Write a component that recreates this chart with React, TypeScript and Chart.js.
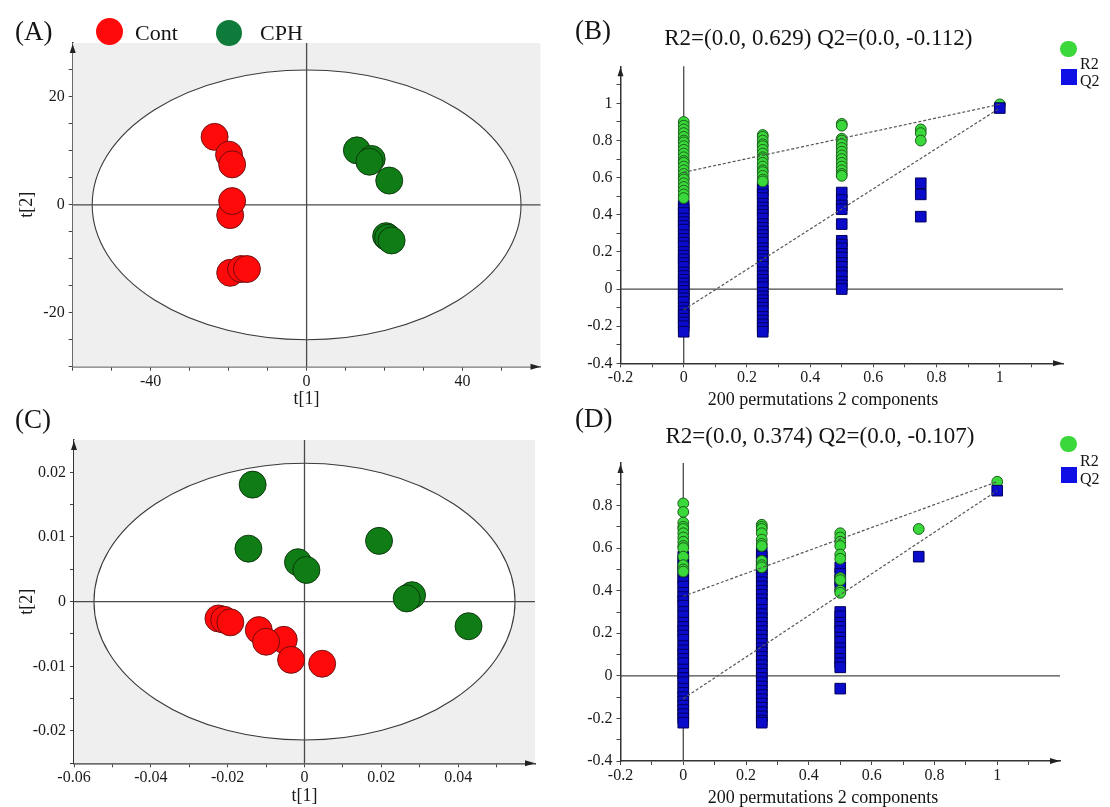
import React, { useEffect, useRef } from 'react';
import { Chart, registerables } from 'chart.js';

Chart.register(...registerables);

const SERIF = "'Liberation Serif', 'Times New Roman', serif";

// ---------- Panel A (PCA score plot) ----------
const aContT1 = [-23.6, -19.9, -19.1, -19.6, -19.1, -19.6, -16.8, -15.3];
const aContT2 = [12.6, 9.3, 7.5, -1.9, 0.7, -12.6, -11.9, -11.9];
const aCphT1 = [12.9, 16.7, 16.1, 21.2, 20.4, 20.9, 21.8];
const aCphT2 = [10.1, 8.5, 8.0, 4.5, -5.8, -6.1, -6.6];
const aEllipse = [55, 25];
const aXTicks = [-60, -50, -40, -30, -20, -10, 0, 10, 20, 30, 40, 50];
const aXLabels = [-40, 0, 40];
const aYTicks = [-30, -25, -20, -15, -10, -5, 0, 5, 10, 15, 20, 25];
const aYLabels = [-20, 0, 20];

// ---------- Panel C (score plot) ----------
const cContT1 = [-0.0224, -0.0209, -0.0193, -0.0119, -0.0054, -0.01, -0.0035, 0.0046];
const cContT2 = [-0.0026, -0.0028, -0.0032, -0.0044, -0.0059, -0.0062, -0.009, -0.0096];
const cCphT1 = [-0.0135, -0.0146, -0.0017, 0.0005, 0.0194, 0.028, 0.0266, 0.0427];
const cCphT2 = [0.0181, 0.0082, 0.0061, 0.0049, 0.0094, 0.001, 0.0005, -0.0038];
const cEllipse = [0.0548, 0.0214];
const cXTicks = [-0.06, -0.05, -0.04, -0.03, -0.02, -0.01, 0, 0.01, 0.02, 0.03, 0.04, 0.05];
const cXLabels = [-0.06, -0.04, -0.02, 0, 0.02, 0.04];
const cYTicks = [-0.025, -0.02, -0.015, -0.01, -0.005, 0, 0.005, 0.01, 0.015, 0.02];
const cYLabels = [-0.02, -0.01, 0, 0.01, 0.02];

// ---------- Permutation panels (B, D) ----------
const permLevels = [0, 0.25, 0.5, 0.75];
const permXTicks = [-0.2, -0.1, 0, 0.1, 0.2, 0.3, 0.4, 0.5, 0.6, 0.7, 0.8, 0.9, 1, 1.1];
const permXLabels = [-0.2, 0, 0.2, 0.4, 0.6, 0.8, 1];

const bR2Perm = [
  [0.9, 0.88, 0.86, 0.84, 0.82, 0.8, 0.79, 0.77, 0.75, 0.73, 0.71, 0.69, 0.68, 0.66, 0.64, 0.62, 0.6, 0.59, 0.57, 0.55, 0.53, 0.51, 0.49],
  [0.83, 0.82, 0.8, 0.78, 0.77, 0.75, 0.73, 0.71, 0.7, 0.68, 0.66, 0.64, 0.63, 0.61, 0.59, 0.58],
  [0.89, 0.88, 0.81, 0.8, 0.78, 0.76, 0.74, 0.72, 0.7, 0.68, 0.66, 0.64, 0.62, 0.61],
  [0.86, 0.84, 0.8],
];
const bQ2Perm = [
  [0.45, 0.43, 0.41, 0.38, 0.36, 0.34, 0.32, 0.29, 0.27, 0.25, 0.23, 0.2, 0.18, 0.16, 0.14, 0.12, 0.09, 0.07, 0.05, 0.03, 0.01, -0.01, -0.03, -0.05, -0.07, -0.1, -0.12, -0.14, -0.16, -0.18, -0.2, -0.23],
  [0.55, 0.53, 0.51, 0.49, 0.46, 0.44, 0.42, 0.4, 0.38, 0.35, 0.33, 0.31, 0.29, 0.27, 0.25, 0.22, 0.2, 0.18, 0.16, 0.14, 0.12, 0.09, 0.07, 0.05, 0.03, 0.01, -0.02, -0.04, -0.06, -0.08, -0.1, -0.12, -0.15, -0.17, -0.19, -0.21, -0.23],
  [0.52, 0.48, 0.45, 0.43, 0.35, 0.26, 0.24, 0.22, 0.19, 0.17, 0.14, 0.12, 0.09, 0.07, 0.04, 0.02, 0.0],
  [0.57, 0.51, 0.39],
];
const bR2Orig = 0.995;
const bQ2Orig = 0.975;
const bR2Intercept = 0.629;
const bQ2Intercept = -0.112;
const bYTicks = [-0.4, -0.3, -0.2, -0.1, 0, 0.1, 0.2, 0.3, 0.4, 0.5, 0.6, 0.7, 0.8, 0.9, 1, 1.1];
const bYLabels = [-0.4, -0.2, 0, 0.2, 0.4, 0.6, 0.8, 1];

const dR2Perm = [
  [0.81, 0.77, 0.72, 0.7, 0.69, 0.67, 0.65, 0.63, 0.61, 0.6, 0.56, 0.52, 0.5, 0.49],
  [0.71, 0.7, 0.69, 0.67, 0.64, 0.62, 0.61, 0.54, 0.52, 0.51],
  [0.67, 0.65, 0.63, 0.61, 0.57, 0.55, 0.46, 0.45, 0.4, 0.39],
  [0.69],
];
const dQ2Perm = [
  [0.56, 0.54, 0.51, 0.49, 0.46, 0.44, 0.42, 0.39, 0.37, 0.35, 0.33, 0.3, 0.28, 0.25, 0.23, 0.21, 0.19, 0.17, 0.14, 0.12, 0.1, 0.08, 0.06, 0.03, 0.01, -0.01, -0.03, -0.06, -0.08, -0.1, -0.12, -0.14, -0.16, -0.18, -0.2, -0.22],
  [0.58, 0.56, 0.54, 0.52, 0.5, 0.48, 0.46, 0.44, 0.42, 0.4, 0.38, 0.36, 0.34, 0.31, 0.29, 0.27, 0.25, 0.23, 0.21, 0.19, 0.17, 0.15, 0.13, 0.11, 0.09, 0.07, 0.05, 0.03, 0.01, -0.01, -0.03, -0.05, -0.07, -0.09, -0.11, -0.13, -0.15, -0.17, -0.19, -0.21, -0.22],
  [0.51, 0.48, 0.45, 0.42, 0.3, 0.28, 0.25, 0.23, 0.21, 0.18, 0.16, 0.13, 0.11, 0.08, 0.06, 0.04, -0.06],
  [0.56],
];
const dR2Orig = 0.912;
const dQ2Orig = 0.87;
const dR2Intercept = 0.374;
const dQ2Intercept = -0.107;
const dYTicks = [-0.4, -0.3, -0.2, -0.1, 0, 0.1, 0.2, 0.3, 0.4, 0.5, 0.6, 0.7, 0.8, 0.9];
const dYLabels = [-0.4, -0.2, 0, 0.2, 0.4, 0.6, 0.8];

// ---------- styling ----------
const RED = '#ff0a0a';
const DKGREEN = '#0f7c16';
const LEGEND_GREEN = '#0e7b3a';
const R2_GREEN = '#3ad83a';
const Q2_BLUE = '#0b0bcc';

const near = (list: number[], v: number) => list.some((l) => Math.abs(l - v) < 1e-9);

function axis(min: number, max: number, ticks: number[], labels: number[], size: number, horizontal: boolean, title?: { text: string; padding: any }) {
  return {
    type: 'linear',
    min,
    max,
    afterBuildTicks: (s: any) => {
      s.ticks = ticks.map((v) => ({ value: v }));
    },
    afterFit: (s: any) => {
      if (horizontal) s.height = size;
      else s.width = size;
    },
    grid: { drawOnChartArea: false, drawTicks: true, tickLength: 4, color: '#444', lineWidth: 1 },
    border: { display: true, color: '#333', width: 1.5 },
    ticks: {
      autoSkip: false,
      maxRotation: 0,
      minRotation: 0,
      padding: horizontal ? 1 : 4,
      color: '#1a1a1a',
      font: { family: SERIF, size: 16 },
      callback: (v: any) => (near(labels, Number(v)) ? String(+Number(v).toFixed(6)) : ''),
    },
    title: title
      ? { display: true, text: title.text, color: '#1a1a1a', font: { family: SERIF, size: 18 }, padding: title.padding }
      : { display: false },
  };
}

function decorPlugin(grey: boolean, ellipse: number[] | null) {
  return {
    id: 'decor',
    beforeDatasetsDraw(chart: any) {
      const { ctx, chartArea: a, scales } = chart;
      const x = scales.x;
      const y = scales.y;
      ctx.save();
      if (grey) {
        ctx.fillStyle = '#efefef';
        ctx.fillRect(a.left, a.top, a.right - a.left, a.bottom - a.top);
      }
      const x0 = x.getPixelForValue(0);
      const y0 = y.getPixelForValue(0);
      if (ellipse) {
        const rx = x.getPixelForValue(ellipse[0]) - x0;
        const ry = y0 - y.getPixelForValue(ellipse[1]);
        ctx.beginPath();
        ctx.ellipse(x0, y0, rx, ry, 0, 0, Math.PI * 2);
        ctx.fillStyle = '#ffffff';
        ctx.fill();
        ctx.lineWidth = 1.1;
        ctx.strokeStyle = '#3a3a3a';
        ctx.stroke();
      }
      ctx.strokeStyle = '#4a4a4a';
      ctx.lineWidth = 1.3;
      ctx.beginPath();
      ctx.moveTo(x0, a.top);
      ctx.lineTo(x0, a.bottom);
      ctx.moveTo(a.left, y0);
      ctx.lineTo(a.right, y0);
      ctx.stroke();
      ctx.restore();
    },
    afterDraw(chart: any) {
      const { ctx, chartArea: a } = chart;
      ctx.save();
      ctx.fillStyle = '#222';
      ctx.beginPath();
      ctx.moveTo(a.left, a.top + 1);
      ctx.lineTo(a.left - 3, a.top + 10);
      ctx.lineTo(a.left + 3, a.top + 10);
      ctx.closePath();
      ctx.fill();
      ctx.beginPath();
      ctx.moveTo(a.right, a.bottom);
      ctx.lineTo(a.right - 10, a.bottom - 3);
      ctx.lineTo(a.right - 10, a.bottom + 3);
      ctx.closePath();
      ctx.fill();
      ctx.restore();
    },
  };
}

type Box = { x: number; y: number; w: number; h: number };
type Area = { l: number; t: number; r: number; b: number };

function padFor(c: Box, a: Area, yW: number, xH: number) {
  return {
    left: a.l - c.x - yW,
    top: a.t - c.y,
    right: c.x + c.w - a.r,
    bottom: c.y + c.h - a.b - xH,
  };
}

const pts = (xs: number[], ys: number[]) => xs.map((v, i) => ({ x: v, y: ys[i] }));

function scoreConfig(c: Box, a: Area, d: any) {
  const yW = a.l - c.x;
  const xH = 43.6;
  return {
    type: 'scatter',
    data: {
      datasets: [
        {
          label: 'Cont',
          data: pts(d.contX, d.contY),
          backgroundColor: RED,
          borderColor: 'rgba(90,10,10,0.85)',
          borderWidth: 1,
          pointRadius: 13.5,
        },
        {
          label: 'CPH',
          data: pts(d.cphX, d.cphY),
          backgroundColor: DKGREEN,
          borderColor: 'rgba(10,50,10,0.9)',
          borderWidth: 1,
          pointRadius: 13.5,
        },
      ],
    },
    options: {
      responsive: false,
      animation: false,
      events: [],
      layout: { padding: padFor(c, a, yW, xH) },
      plugins: { legend: { display: false }, tooltip: { enabled: false }, title: { display: false } },
      scales: {
        x: axis(d.xMin, d.xMax, d.xTicks, d.xLabels, xH, true, { text: 't[1]', padding: { top: 0, bottom: 0 } }),
        y: axis(d.yMin, d.yMax, d.yTicks, d.yLabels, yW, false, { text: 't[2]', padding: { top: 16.2, bottom: 0 } }),
      },
    },
    plugins: [decorPlugin(true, d.ellipse)],
  };
}

function permConfig(c: Box, a: Area, d: any) {
  const yW = a.l - c.x;
  const xH = 30;
  const r2Perm = permLevels.flatMap((lv, i) => d.r2[i].map((v: number) => ({ x: lv, y: v })));
  const q2Perm = permLevels.flatMap((lv, i) => d.q2[i].map((v: number) => ({ x: lv, y: v })));
  const lineStyle = {
    showLine: true,
    borderColor: '#555',
    borderWidth: 1.2,
    borderDash: [3, 2],
    pointRadius: 0,
    fill: false,
  };
  const r2Style = { backgroundColor: R2_GREEN, borderColor: '#1c5e1c', borderWidth: 1, pointRadius: 5.4, pointStyle: 'circle' };
  const q2Style = { backgroundColor: Q2_BLUE, borderColor: '#00005a', borderWidth: 1, pointRadius: 7.5, pointStyle: 'rect' };
  return {
    type: 'scatter',
    data: {
      datasets: [
        { label: 'R2 fit', data: [{ x: 0, y: d.r2Int }, { x: 1, y: d.r2Orig }], ...lineStyle },
        { label: 'Q2 fit', data: [{ x: 0, y: d.q2Int }, { x: 1, y: d.q2Orig }], ...lineStyle },
        { label: 'Q2', data: [{ x: 1, y: d.q2Orig }], ...q2Style },
        { label: 'R2', data: [{ x: 1, y: d.r2Orig }], ...r2Style },
        { label: 'R2 perm', data: r2Perm, ...r2Style },
        { label: 'Q2 perm', data: q2Perm, ...q2Style },
      ],
    },
    options: {
      responsive: false,
      animation: false,
      events: [],
      layout: { padding: padFor(c, a, yW, xH) },
      plugins: { legend: { display: false }, tooltip: { enabled: false }, title: { display: false } },
      scales: {
        x: axis(-0.2, 1.2, permXTicks, permXLabels, xH, true),
        y: axis(-0.4, d.yMax, d.yTicks, d.yLabels, yW, false),
      },
    },
    plugins: [decorPlugin(false, null)],
  };
}

const boxA: Box = { x: 0, y: 0, w: 555, h: 420 };
const areaA: Area = { l: 72.7, t: 43, r: 545, b: 366.7 };
const boxB: Box = { x: 555, y: 0, w: 555, h: 420 };
const areaB: Area = { l: 620.5, t: 66.3, r: 1063, b: 363.3 };
const boxC: Box = { x: 0, y: 400, w: 555, h: 407 };
const areaC: Area = { l: 74, t: 440, r: 535, b: 763.3 };
const boxD: Box = { x: 555, y: 400, w: 555, h: 407 };
const areaD: Area = { l: 620.5, t: 463, r: 1060, b: 761 };

function ChartCanvas({ box, make }: { box: Box; make: () => any }) {
  const ref = useRef<HTMLCanvasElement | null>(null);
  useEffect(() => {
    if (!ref.current) return;
    const chart = new Chart(ref.current, make());
    return () => chart.destroy();
  }, []);
  return (
    <canvas
      ref={ref}
      width={box.w}
      height={box.h}
      style={{ position: 'absolute', left: box.x, top: box.y, width: box.w, height: box.h }}
    />
  );
}

function Txt({ text, x, cy, size, center }: { text: string; x: number; cy: number; size: number; center?: boolean }) {
  const lh = Math.round(size * 1.2);
  return (
    <div
      style={{
        position: 'absolute',
        left: x,
        top: cy - lh / 2,
        height: lh,
        lineHeight: lh + 'px',
        fontSize: size,
        fontFamily: SERIF,
        color: '#141414',
        whiteSpace: 'nowrap',
        transform: center ? 'translateX(-50%)' : undefined,
      }}
    >
      {text}
    </div>
  );
}

function Dot({ cx, cy, d, color, square }: { cx: number; cy: number; d: number; color: string; square?: boolean }) {
  return (
    <div
      style={{
        position: 'absolute',
        left: cx - d / 2,
        top: cy - d / 2,
        width: d,
        height: d,
        borderRadius: square ? 0 : '50%',
        background: color,
      }}
    />
  );
}

export default function App() {
  return (
    <div style={{ position: 'fixed', left: 0, top: 0, width: 1110, height: 807, background: '#fff', overflow: 'hidden' }}>
      <ChartCanvas
        box={boxA}
        make={() =>
          scoreConfig(boxA, areaA, {
            contX: aContT1, contY: aContT2, cphX: aCphT1, cphY: aCphT2,
            xMin: -60, xMax: 60, yMin: -30, yMax: 30,
            xTicks: aXTicks, xLabels: aXLabels, yTicks: aYTicks, yLabels: aYLabels,
            ellipse: aEllipse,
          })
        }
      />
      <ChartCanvas
        box={boxC}
        make={() =>
          scoreConfig(boxC, areaC, {
            contX: cContT1, contY: cContT2, cphX: cCphT1, cphY: cCphT2,
            xMin: -0.06, xMax: 0.06, yMin: -0.025, yMax: 0.025,
            xTicks: cXTicks, xLabels: cXLabels, yTicks: cYTicks, yLabels: cYLabels,
            ellipse: cEllipse,
          })
        }
      />
      <ChartCanvas
        box={boxB}
        make={() =>
          permConfig(boxB, areaB, {
            r2: bR2Perm, q2: bQ2Perm, r2Orig: bR2Orig, q2Orig: bQ2Orig,
            r2Int: bR2Intercept, q2Int: bQ2Intercept, yMax: 1.2, yTicks: bYTicks, yLabels: bYLabels,
          })
        }
      />
      <ChartCanvas
        box={boxD}
        make={() =>
          permConfig(boxD, areaD, {
            r2: dR2Perm, q2: dQ2Perm, r2Orig: dR2Orig, q2Orig: dQ2Orig,
            r2Int: dR2Intercept, q2Int: dQ2Intercept, yMax: 1.0, yTicks: dYTicks, yLabels: dYLabels,
          })
        }
      />

      {/* panel letters */}
      <Txt text="(A)" x={15} cy={31} size={27} />
      <Txt text="(B)" x={575} cy={29.5} size={27} />
      <Txt text="(C)" x={15} cy={419} size={27} />
      <Txt text="(D)" x={575} cy={418} size={27} />

      {/* legend A */}
      <Dot cx={109.3} cy={31.5} d={27} color={RED} />
      <Txt text="Cont" x={135} cy={32.5} size={22} />
      <Dot cx={229} cy={33} d={26} color={LEGEND_GREEN} />
      <Txt text="CPH" x={260} cy={33} size={22} />

      {/* B titles and legend */}
      <Txt text="R2=(0.0, 0.629) Q2=(0.0, -0.112)" x={818.3} cy={38.3} size={23} center />
      <Txt text="200 permutations 2 components" x={823} cy={399} size={18} center />
      <Dot cx={1068.3} cy={49} d={16.5} color={R2_GREEN} />
      <Dot cx={1068.7} cy={77} d={16} color={'#1010e6'} square />
      <Txt text="R2" x={1080} cy={63} size={16} />
      <Txt text="Q2" x={1080} cy={80} size={16} />

      {/* D titles and legend */}
      <Txt text="R2=(0.0, 0.374) Q2=(0.0, -0.107)" x={820} cy={436} size={23} center />
      <Txt text="200 permutations 2 components" x={823} cy={796.5} size={18} center />
      <Dot cx={1068.3} cy={443.8} d={16.5} color={R2_GREEN} />
      <Dot cx={1068.7} cy={475} d={16} color={'#1010e6'} square />
      <Txt text="R2" x={1080} cy={460} size={16} />
      <Txt text="Q2" x={1080} cy={478} size={16} />
    </div>
  );
}
